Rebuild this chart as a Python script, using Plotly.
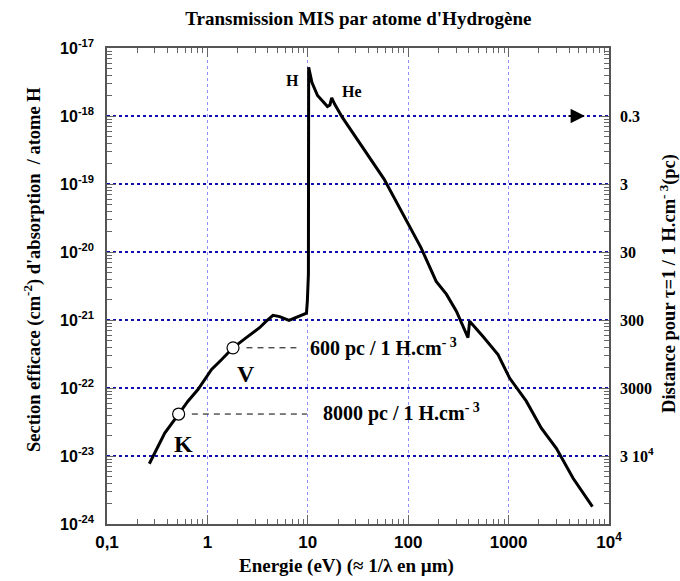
import math
import plotly.graph_objects as go

# ---- data ----
energy_eV = [0.264, 0.31, 0.376, 0.517, 0.64, 0.805, 1.1, 1.38, 1.8, 2.44, 3.31, 3.86,
             4.5, 5.25, 6.5, 9.7, 9.9, 10.14, 10.2, 11, 12.5, 15.7, 16.6, 17.3, 18.5, 22,
             57.5, 134, 190, 240, 302, 394, 409, 556, 784, 1023, 1500, 2120, 2990, 4390, 6840]
sigma_cm2 = [7.7e-24, 1.23e-23, 2.17e-23, 4.14e-23, 6.4e-23, 9.5e-23, 1.87e-22, 2.6e-22,
             3.9e-22, 5.5e-22, 7.7e-22, 9.6e-22, 1.17e-21, 1.12e-21, 9.9e-22, 1.26e-21,
             1.9e-21, 4.7e-21, 5.2e-18, 3.1e-18, 2.0e-18, 1.38e-18, 1.45e-18, 1.85e-18,
             1.5e-18, 9.6e-19, 1.18e-19, 1.16e-20, 3.7e-21, 2.4e-21, 1.35e-21, 5.5e-22,
             9.6e-22, 5.7e-22, 3.1e-22, 1.4e-22, 6.4e-23, 2.57e-23, 1.3e-23, 4.7e-24, 1.8e-24]

band_names = ["K", "V"]
band_energy = [0.517, 1.8]
band_sigma = [4.14e-23, 3.9e-22]
band_dash_start = [0.70, 2.45]
band_dash_end = [9.8, 7.7]
band_text = ["8000 pc / 1 H.cm<sup>- 3</sup>", "600 pc / 1 H.cm<sup>- 3</sup>"]

x_tickvals = [0.1, 1, 10, 100, 1000, 10000]
x_ticktext = ["0,1", "1", "10", "100", "1000", "10<sup>4</sup>"]
y_tickvals = [1e-17, 1e-18, 1e-19, 1e-20, 1e-21, 1e-22, 1e-23, 1e-24]
y_ticktext = ["10<sup>-17</sup>", "10<sup>-18</sup>", "10<sup>-19</sup>", "10<sup>-20</sup>",
              "10<sup>-21</sup>", "10<sup>-22</sup>", "10<sup>-23</sup>", "10<sup>-24</sup>"]
dist_tickvals = [1e-18, 1e-19, 1e-20, 1e-21, 1e-22, 1e-23]
dist_ticktext = ["0.3", "3", "30", "300", "3000", "3 10<sup>4</sup>"]

SERIF = "Liberation Serif, Times New Roman, serif"
SANS = "Liberation Sans, Arial, sans-serif"


def bold(lst):
    return ["<b>" + t + "</b>" for t in lst]


def minor_vals(lo, hi):
    out = []
    for d in range(lo, hi):
        for m in range(2, 10):
            out.append(m * 10.0 ** d)
    return out


fig = go.Figure()

for i in range(2):
    fig.add_trace(go.Scatter(x=[band_dash_start[i], band_dash_end[i]],
                             y=[band_sigma[i], band_sigma[i]], mode="lines",
                             line=dict(color="black", width=1, dash="6px,5px"),
                             showlegend=False, hoverinfo="skip"))

fig.add_trace(go.Scatter(x=energy_eV, y=sigma_cm2, mode="lines",
                         line=dict(color="black", width=3), showlegend=False))
fig.add_trace(go.Scatter(x=band_energy, y=band_sigma, mode="markers",
                         marker=dict(size=12, color="white", line=dict(color="black", width=1.2)),
                         showlegend=False))
fig.add_trace(go.Scatter(x=[energy_eV[0]], y=[sigma_cm2[0]], yaxis="y2", mode="markers",
                         marker=dict(opacity=0), showlegend=False, hoverinfo="skip"))

annotations = []
annotations.append(dict(x=0.999, y=-21.40, xref="x", yref="y", text="<b>" + band_text[1] + "</b>",
                        showarrow=False, xanchor="left", yanchor="middle",
                        font=dict(family=SERIF, size=20, color="black")))
annotations.append(dict(x=1.135, y=-22.36, xref="x", yref="y", text="<b>" + band_text[0] + "</b>",
                        showarrow=False, xanchor="left", yanchor="middle",
                        font=dict(family=SERIF, size=20, color="black")))
annotations.append(dict(x=0.381, y=-21.80, xref="x", yref="y", text="<b>V</b>", showarrow=False,
                        xanchor="center", yanchor="middle",
                        font=dict(family=SERIF, size=24, color="black")))
annotations.append(dict(x=-0.236, y=-22.82, xref="x", yref="y", text="<b>K</b>", showarrow=False,
                        xanchor="center", yanchor="middle",
                        font=dict(family=SERIF, size=24, color="black")))
annotations.append(dict(x=0.846, y=-17.477, xref="x", yref="y", text="<b>H</b>", showarrow=False,
                        xanchor="center", yanchor="middle",
                        font=dict(family=SERIF, size=16, color="black")))
annotations.append(dict(x=1.437, y=-17.64, xref="x", yref="y", text="<b>He</b>", showarrow=False,
                        xanchor="center", yanchor="middle",
                        font=dict(family=SERIF, size=16, color="black")))
annotations.append(dict(x=3.76, y=-18, xref="x", yref="y", ax=3.58, ay=-18, axref="x", ayref="y",
                        text="", showarrow=True, arrowhead=2, arrowsize=2.2, arrowwidth=1.3,
                        arrowcolor="black"))
annotations.append(dict(x=0.478, y=-0.088, xref="paper", yref="paper",
                        xanchor="center", yanchor="middle",
                        text="<b>Energie (eV) (≈ 1/λ en µm)</b>", showarrow=False,
                        font=dict(family=SERIF, size=19, color="black")))
annotations.append(dict(x=-0.147, y=0.534, xref="paper", yref="paper", textangle=-90,
                        xanchor="center", yanchor="middle",
                        text="<b>Section efficace (cm<sup>-2</sup>) d'absorption  / atome H</b>",
                        showarrow=False, font=dict(family=SERIF, size=18.5, color="black")))
annotations.append(dict(x=1.117, y=0.506, xref="paper", yref="paper", textangle=-90,
                        xanchor="center", yanchor="middle",
                        text="<b>Distance pour τ=1 / 1 H.cm<sup>- 3</sup>(pc)</b>",
                        showarrow=False, font=dict(family=SERIF, size=18.5, color="black")))

axis_col = "#555555"
tick_col = "#666666"
fig.update_layout(
    width=680, height=581,
    margin=dict(l=107, r=71, t=48, b=57),
    paper_bgcolor="white", plot_bgcolor="white",
    title=dict(text="<b>Transmission MIS par atome d'Hydrogène</b>", x=0.527, xanchor="center",
               y=1 - 18 / 581, yanchor="middle", yref="container",
               font=dict(family=SERIF, size=19, color="black")),
    xaxis=dict(type="log", range=[-1, 4], tickmode="array", tickvals=x_tickvals,
               ticktext=bold(x_ticktext), ticks="inside", ticklen=9, tickwidth=1.2, tickcolor=tick_col,
               showline=True, linecolor=axis_col, linewidth=1.5, mirror="ticks",
               showgrid=True, gridcolor="#8f8fff", gridwidth=1, griddash="dot",
               tickfont=dict(family=SANS, size=17, color="black"),
               ticklabelstandoff=2, zeroline=False, layer="above traces",
               minor=dict(ticks="inside", ticklen=5, tickwidth=1.2, tickcolor=tick_col,
                          tickmode="array", tickvals=minor_vals(-1, 4), showgrid=False)),
    yaxis=dict(type="log", range=[-24, -17], tickmode="array", tickvals=y_tickvals,
               ticktext=bold(y_ticktext), ticks="inside", ticklen=9, tickwidth=1.2, tickcolor=tick_col,
               showline=True, linecolor=axis_col, linewidth=1.5, mirror="ticks",
               showgrid=True, gridcolor="#1010b0", gridwidth=2, griddash="dot",
               tickfont=dict(family=SANS, size=16, color="black"),
               ticklabelstandoff=8, zeroline=False, layer="above traces",
               minor=dict(ticks="inside", ticklen=5, tickwidth=1.2, tickcolor=tick_col,
                          tickmode="array", tickvals=minor_vals(-24, -17), showgrid=False)),
    yaxis2=dict(type="log", range=[-24, -17], overlaying="y", side="right", tickmode="array",
                tickvals=dist_tickvals, ticktext=bold(dist_ticktext), ticks="", showgrid=False,
                showline=False, zeroline=False, ticklabelstandoff=10,
                tickfont=dict(family=SERIF, size=16, color="black")),
    annotations=annotations,
    showlegend=False,
)

fig.write_html("out.html")
